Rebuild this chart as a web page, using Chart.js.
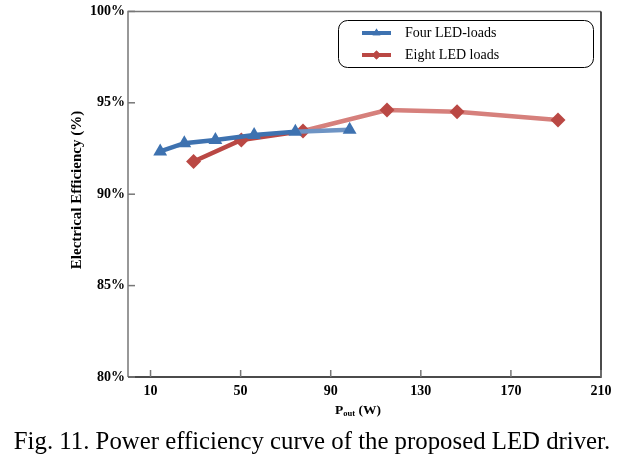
<!DOCTYPE html>
<html>
<head>
<meta charset="utf-8">
<script src="https://cdn.jsdelivr.net/npm/chart.js@4/dist/chart.umd.min.js"></script>
<style>
html,body{margin:0;padding:0;background:#fff;}
#wrap{width:632px;height:463px;position:relative;}
</style>
</head>
<body>
<div id="wrap"><canvas id="c" width="632" height="463"></canvas></div>
<script>
const fourPower = [14.3, 25.0, 38.8, 56.0, 74.3, 98.4];
const fourEff   = [92.34, 92.79, 92.97, 93.24, 93.42, 93.52];
const eightPower = [29.1, 50.3, 77.7, 115.0, 146.1, 190.9];
const eightEff   = [91.79, 92.97, 93.46, 94.60, 94.51, 94.06];
const xTicks = [10, 50, 90, 130, 170, 210];
const yTicks = [80, 85, 90, 95, 100];
const seriesNames = ['Four LED-loads', 'Eight LED loads'];
const xTitleMain = 'P', xTitleSub = 'out', xTitleTail = ' (W)';
const yTitle = 'Electrical Efficiency (%)';
const caption = 'Fig. 11. Power efficiency curve of the proposed LED driver.';

const BLUE = 'rgb(62,114,176)', BLUE_L = 'rgb(110,148,196)';
const RED = 'rgb(186,72,68)', RED_L = 'rgb(214,128,124)';
const SERIF = '"Liberation Serif", "DejaVu Serif", serif';

const extras = {
  id: 'extras',
  afterDraw(chart) {
    const ctx = chart.ctx, a = chart.chartArea;
    const xs = chart.scales.x, ys = chart.scales.y;
    ctx.save();
    // box
    ctx.lineWidth = 1.5;
    ctx.strokeStyle = '#777';
    ctx.beginPath(); ctx.moveTo(a.left, a.bottom); ctx.lineTo(a.left, a.top); ctx.lineTo(a.right, a.top); ctx.stroke();
    ctx.strokeStyle = '#111';
    ctx.beginPath(); ctx.moveTo(a.right, a.top); ctx.lineTo(a.right, a.bottom); ctx.lineTo(a.left, a.bottom); ctx.stroke();
    // inner ticks
    ctx.strokeStyle = '#777'; ctx.lineWidth = 1.5;
    yTicks.forEach(v => { const y = ys.getPixelForValue(v); ctx.beginPath(); ctx.moveTo(a.left, y); ctx.lineTo(a.left + 7, y); ctx.stroke(); });
    xTicks.forEach(v => { const x = xs.getPixelForValue(v); ctx.beginPath(); ctx.moveTo(x, a.bottom); ctx.lineTo(x, a.bottom - 7); ctx.stroke(); });
    // x title
    ctx.fillStyle = '#000';
    ctx.textBaseline = 'alphabetic';
    const mainFont = 'bold 13.5px ' + SERIF, subFont = 'bold 8.5px ' + SERIF;
    ctx.font = mainFont;
    const w1 = ctx.measureText(xTitleMain).width;
    ctx.font = subFont;
    const w2 = ctx.measureText(xTitleSub).width;
    ctx.font = mainFont;
    const w3 = ctx.measureText(xTitleTail).width;
    let x0 = 358 - (w1 + w2 + w3) / 2;
    const yb = 414;
    ctx.textAlign = 'left';
    ctx.fillText(xTitleMain, x0, yb);
    ctx.font = subFont;
    ctx.fillText(xTitleSub, x0 + w1, yb + 2);
    ctx.font = mainFont;
    ctx.fillText(xTitleTail, x0 + w1 + w2, yb);
    // y title
    ctx.save();
    ctx.translate(77, 190);
    ctx.rotate(-Math.PI / 2);
    ctx.textAlign = 'center'; ctx.textBaseline = 'middle';
    ctx.font = 'bold 15px ' + SERIF;
    ctx.fillText(yTitle, 0, 0);
    ctx.restore();
    // legend
    ctx.strokeStyle = '#000'; ctx.lineWidth = 1;
    ctx.beginPath();
    if (ctx.roundRect) ctx.roundRect(338.5, 20.5, 255, 47, 9); else ctx.rect(338.5, 20.5, 255, 47);
    ctx.stroke();
    const items = [{c: BLUE, s: 'triangle', y: 33}, {c: RED, s: 'rectRot', y: 55}];
    items.forEach((it, i) => {
      ctx.strokeStyle = it.c; ctx.lineWidth = 4;
      ctx.beginPath(); ctx.moveTo(362, it.y); ctx.lineTo(391, it.y); ctx.stroke();
      ctx.fillStyle = it.c;
      Chart.helpers.drawPoint(ctx, {pointStyle: it.s, radius: 4.5, rotation: 0, borderWidth: 0}, 376.5, it.y);
      ctx.fill();
      ctx.fillStyle = '#000';
      ctx.font = '14px ' + SERIF;
      ctx.textAlign = 'left'; ctx.textBaseline = 'middle';
      ctx.fillText(seriesNames[i], 405, it.y);
    });
    // caption
    ctx.fillStyle = '#000';
    ctx.font = '24.8px ' + SERIF;
    ctx.textAlign = 'center'; ctx.textBaseline = 'alphabetic';
    ctx.fillText(caption, 312, 449);
    ctx.restore();
  }
};

new Chart(document.getElementById('c'), {
  type: 'line',
  data: {
    datasets: [
      {
        label: seriesNames[0],
        data: fourPower.map((x, i) => ({x, y: fourEff[i]})),
        borderColor: BLUE, backgroundColor: BLUE,
        borderWidth: 4.5, pointStyle: 'triangle', pointRadius: 8, pointBorderWidth: 0,
        segment: { borderColor: c => c.p1DataIndex === fourPower.length - 1 ? BLUE_L : BLUE }
      },
      {
        label: seriesNames[1],
        data: eightPower.map((x, i) => ({x, y: eightEff[i]})),
        borderColor: RED, backgroundColor: RED,
        borderWidth: 4.5, pointStyle: 'rectRot', pointRadius: 7.5, pointBorderWidth: 0,
        segment: { borderColor: c => c.p1DataIndex >= 3 ? RED_L : RED }
      }
    ]
  },
  options: {
    responsive: false,
    animation: false,
    layout: { padding: { top: 10, right: 31, left: 0, bottom: 0 } },
    plugins: { legend: { display: false }, tooltip: { enabled: false } },
    scales: {
      x: {
        type: 'linear', min: 0, max: 210,
        afterBuildTicks: s => { s.ticks = xTicks.map(v => ({value: v})); },
        afterFit: s => { s.height = 86; },
        grid: { display: false, drawTicks: false },
        border: { display: false },
        ticks: { color: '#000', font: { family: SERIF, size: 14, weight: 'bold' }, padding: 6, maxRotation: 0, autoSkip: false }
      },
      y: {
        min: 80, max: 100,
        afterBuildTicks: s => { s.ticks = yTicks.map(v => ({value: v})); },
        afterFit: s => { s.width = 128; },
        grid: { display: false, drawTicks: false },
        border: { display: false },
        ticks: { color: '#000', font: { family: SERIF, size: 14, weight: 'bold' }, padding: 3, callback: v => v + '%' }
      }
    }
  },
  plugins: [extras]
});
</script>
</body>
</html>
